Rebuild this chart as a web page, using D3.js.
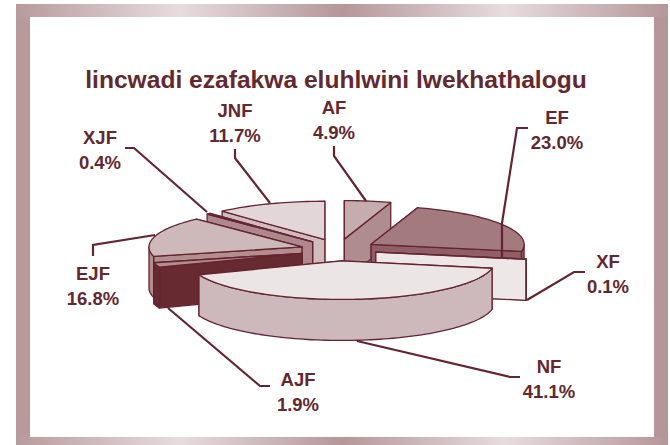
<!DOCTYPE html>
<html>
<head>
<meta charset="utf-8">
<script src="https://cdn.jsdelivr.net/npm/d3@7"></script>
<style>
  html, body { margin: 0; padding: 0; background: #fff; }
  svg { display: block; }
  text { font-family: "Liberation Sans", Arial, sans-serif; font-weight: bold; fill: #64282f; }
</style>
</head>
<body>
<svg id="chart" width="670" height="445"></svg>
<script>
// chart values, in pie order (clockwise from 12 o'clock)
var categories = ["AF", "EF", "XF", "NF", "AJF", "EJF", "XJF", "JNF"];
var shares = [4.9, 23.0, 0.1, 41.1, 1.9, 16.8, 0.4, 11.7];
var topColors = ["#c5acae", "#a37b7e", "#eee7e8", "#ece5e6", "#b18e90", "#cdb8ba", "#ae888c", "#e2d6d8"];
var wallColors = ["#ae8c8f", "#8f5f65", "#eee7e8", "#cdb9bb", "#662a30", "#b48d90", "#ae888c", "#d0bbbd"];
var title = "lincwadi ezafakwa eluhlwini lwekhathalogu";

// label spots and leader lines
var labelSpots = {
  AF: [334, 114], EF: [557, 124], XF: [608, 268], NF: [549, 373],
  AJF: [298, 386], EJF: [93, 280], XJF: [100, 144], JNF: [235, 117]
};
var leaders = {
  AF: [[334, 146], [334, 156], [366, 201]],
  EF: [[528, 128], [517, 128], [502, 223], [502, 257]],
  XF: [[585, 272], [574, 272], [527, 300]],
  NF: [[520, 377], [510, 377], [357, 341]],
  AJF: [[270, 386], [260, 386], [168, 308]],
  EJF: [[93, 256], [93, 245], [155, 235]],
  XJF: [[125, 148], [134, 148], [207, 212]],
  JNF: [[235, 149], [235, 158], [270, 203]]
};

// back to front
var drawOrder = ["JNF", "AF", "XJF", "EJF", "EF", "XF", "AJF", "NF"];

var svg = d3.select("#chart");
var ink = "#652530";

// frame
var defs = svg.append("defs");
var grad = defs.append("linearGradient").attr("id", "frameGrad");
[[0, "#b89a9d"], [0.25, "#e6dcde"], [0.5, "#b5969a"], [0.75, "#e6dcde"], [1, "#b5969a"]].forEach(function (s) {
  grad.append("stop").attr("offset", s[0]).attr("stop-color", s[1]);
});
svg.append("rect").attr("x", 16).attr("y", 4).attr("width", 652).attr("height", 441).attr("fill", "url(#frameGrad)");
svg.append("rect").attr("x", 16).attr("y", 17).attr("width", 14).attr("height", 420).attr("fill", "#b89a9d");
svg.append("rect").attr("x", 654).attr("y", 17).attr("width", 14).attr("height", 420).attr("fill", "#b5969a");
svg.append("rect").attr("x", 30).attr("y", 17).attr("width", 624).attr("height", 420).attr("fill", "#fff");

svg.append("text")
  .attr("x", 336).attr("y", 88)
  .attr("text-anchor", "middle")
  .style("font-size", "24.6px")
  .text(title);

// pie
var cx = 338.5, cy = 250, rx = 153, ry = 38.5, depth = 41;
var explodeX = 38, explodeY = 11;

var pie = d3.pie().sort(null).value(function (d) { return d.share; });
var slices = pie(categories.map(function (c, i) { return { name: c, share: shares[i], i: i }; }));

var line = d3.line();

function onRim(o, a, dy) {
  return [o[0] + rx * Math.sin(a), o[1] - ry * Math.cos(a) + (dy || 0)];
}

function rimPoints(o, a0, a1, dy) {
  var n = Math.max(2, Math.ceil(Math.abs(a1 - a0) / 0.03)), pts = [];
  for (var k = 0; k <= n; k++) pts.push(onRim(o, a0 + (a1 - a0) * k / n, dy));
  return pts;
}

function drawSlice(s) {
  var mid = (s.startAngle + s.endAngle) / 2;
  var o = [cx + explodeX * Math.sin(mid), cy - explodeY * Math.cos(mid)];
  var g = svg.append("g").attr("class", "slice").attr("data-name", s.data.name);
  var wall = wallColors[s.data.i], top = topColors[s.data.i];

  function face(pts, fill) {
    g.append("path").attr("d", line(pts) + "Z")
      .attr("fill", fill).attr("stroke", ink).attr("stroke-width", 1.3).attr("stroke-linejoin", "round");
  }

  // the cut face turned towards the viewer goes on last
  var cuts = mid < Math.PI ? [s.startAngle, s.endAngle] : [s.endAngle, s.startAngle];
  cuts.forEach(function (a) {
    var e = onRim(o, a);
    face([o, e, [e[0], e[1] + depth], [o[0], o[1] + depth]], wall);
  });

  // outer wall only where the rim faces the viewer
  var a0 = Math.max(s.startAngle, Math.PI / 2), a1 = Math.min(s.endAngle, Math.PI * 1.5);
  if (a1 > a0) {
    face(rimPoints(o, a0, a1).concat(rimPoints(o, a1, a0, depth)), wall);
  }

  face([o].concat(rimPoints(o, s.startAngle, s.endAngle)), top);
}

drawOrder.forEach(function (name) {
  drawSlice(slices[categories.indexOf(name)]);
});

// leaders and labels
categories.forEach(function (c, i) {
  svg.append("path").attr("d", line(leaders[c]))
    .attr("fill", "none").attr("stroke", ink).attr("stroke-width", 2.2);
  var t = svg.append("text").attr("text-anchor", "middle").style("font-size", "18.5px");
  t.append("tspan").attr("x", labelSpots[c][0]).attr("y", labelSpots[c][1]).text(c);
  t.append("tspan").attr("x", labelSpots[c][0]).attr("dy", 24.5).text(d3.format(".1f")(shares[i]) + "%");
});
</script>
</body>
</html>
